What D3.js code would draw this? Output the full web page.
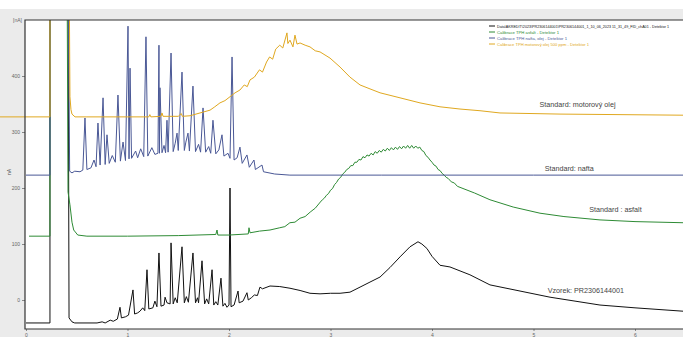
<!DOCTYPE html>
<html>
<head>
<meta charset="utf-8">
<script src="https://cdn.jsdelivr.net/npm/d3@7"></script>
<style>
  html, body { margin: 0; padding: 0; background: #ebebeb; }
  svg { display: block; font-family: "Liberation Sans", Arial, sans-serif; }
</style>
</head>
<body>
<script>
// retention time [min] / signal [nA]
const yTicks = [0, 100, 200, 300, 400];
const xTicks = [0, 1, 2, 3, 4, 5, 6];

const sampleTrace = [
  [0, -41], [0.236, -41], [0.236, 620], [0.414, 620], [0.424, -32], [0.453, -39], [0.48, -41],
  [0.70, -41], [0.75, -39], [0.78, -41], [0.83, -36], [0.86, -38], [0.90, -34], [0.926, -13],
  [0.94, -32], [0.98, -30], [1.01, -27], [1.054, 18], [1.07, -25], [1.10, -23], [1.123, -20],
  [1.15, -14], [1.17, -19], [1.192, 54], [1.21, -16], [1.25, -14], [1.27, -2], [1.29, -12],
  [1.31, 84], [1.33, -11], [1.36, -9], [1.37, 5], [1.389, -5], [1.42, -7], [1.429, 102],
  [1.45, -7], [1.47, 4], [1.49, -5], [1.537, 95], [1.56, -5], [1.58, 6], [1.60, -4],
  [1.645, 84], [1.67, -5], [1.69, 4], [1.70, -5], [1.734, 70], [1.76, -7], [1.78, 2],
  [1.80, -7], [1.833, 54], [1.85, -9], [1.87, -3], [1.89, -9], [1.921, 39], [1.94, -11],
  [1.96, -6], [1.98, -13], [2.0, -9], [2.01, 200], [2.02, -12], [2.05, -9], [2.089, 16],
  [2.10, -5], [2.138, -2], [2.177, 13], [2.19, 0], [2.22, 4], [2.25, 9], [2.28, 8],
  [2.305, 23], [2.33, 20], [2.404, 25], [2.50, 24], [2.601, 21], [2.70, 17], [2.798, 12],
  [2.897, 11], [3.0, 12], [3.094, 12], [3.192, 14], [3.291, 23], [3.389, 32], [3.488, 41],
  [3.586, 58], [3.685, 77], [3.783, 95], [3.862, 104], [3.90, 100], [3.95, 92], [4.0, 78],
  [4.079, 62], [4.177, 59], [4.374, 45], [4.571, 27], [4.867, 16], [5.163, 5], [5.655, -9],
  [6.0, -14], [6.473, -20]
];

const asphaltTrace = [
  [0.03, 114], [0.236, 114], [0.236, 620], [0.404, 620], [0.414, 193], [0.433, 170],
  [0.453, 139], [0.47, 125], [0.51, 116], [0.60, 114], [1.0, 114], [1.5, 115], [1.87, 117],
  [1.882, 125], [1.89, 116], [2.0, 116], [2.19, 118], [2.197, 129], [2.207, 120], [2.30, 123],
  [2.404, 125], [2.50, 129], [2.55, 131], [2.60, 138], [2.65, 139], [2.70, 146], [2.75, 149],
  [2.80, 157], [2.85, 164], [2.90, 175], [2.92, 179], [2.94, 182], [2.96, 187], [2.98, 190],
  [3.00, 196], [3.02, 199], [3.04, 206], [3.06, 210], [3.08, 216], [3.10, 219], [3.12, 225],
  [3.14, 228], [3.16, 233], [3.18, 235], [3.20, 240], [3.22, 240], [3.24, 246], [3.26, 246],
  [3.28, 251], [3.30, 250], [3.32, 256], [3.34, 254], [3.36, 259], [3.38, 257], [3.40, 262],
  [3.42, 259], [3.44, 265], [3.46, 262], [3.48, 267], [3.50, 264], [3.52, 269], [3.54, 266],
  [3.56, 271], [3.58, 267], [3.60, 272], [3.62, 268], [3.64, 273], [3.66, 269], [3.68, 274],
  [3.70, 270], [3.72, 275], [3.74, 271], [3.76, 276], [3.78, 271], [3.80, 276], [3.82, 271],
  [3.84, 275], [3.86, 271], [3.88, 273], [3.90, 267], [3.92, 265], [3.94, 258], [3.96, 255],
  [3.98, 250], [4.00, 246], [4.02, 241], [4.04, 239], [4.06, 233], [4.08, 231], [4.10, 226],
  [4.12, 223], [4.14, 219], [4.16, 217], [4.19, 211], [4.22, 209], [4.25, 203], [4.42, 191],
  [4.571, 179], [4.8, 166], [5.064, 155], [5.3, 149], [5.655, 143], [6.0, 140], [6.473, 138]
];

const dieselTrace = [
  [0, 223], [0.236, 223], [0.236, 620], [0.414, 620], [0.43, 230], [0.453, 227], [0.48, 230],
  [0.532, 229], [0.56, 232], [0.581, 325], [0.60, 233], [0.64, 236], [0.67, 250], [0.69, 238],
  [0.709, 316], [0.73, 241], [0.759, 361], [0.78, 242], [0.798, 295], [0.82, 244], [0.85, 258],
  [0.88, 246], [0.906, 366], [0.93, 248], [0.956, 282], [0.98, 249], [1.005, 489], [1.015, 252],
  [1.025, 414], [1.04, 253], [1.08, 266], [1.10, 254], [1.13, 270], [1.16, 256], [1.182, 470],
  [1.20, 257], [1.24, 272], [1.27, 260], [1.30, 262], [1.310, 455], [1.315, 262], [1.320, 379],
  [1.34, 263], [1.36, 276], [1.375, 263], [1.389, 321], [1.40, 264], [1.429, 441], [1.45, 265],
  [1.47, 280], [1.488, 298], [1.50, 267], [1.537, 407], [1.56, 267], [1.575, 282], [1.596, 298],
  [1.61, 266], [1.645, 382], [1.67, 265], [1.70, 278], [1.72, 264], [1.744, 343], [1.77, 264],
  [1.80, 274], [1.82, 262], [1.842, 321], [1.87, 261], [1.90, 268], [1.931, 295], [1.95, 257],
  [1.99, 262], [2.01, 253], [2.030, 434], [2.05, 250], [2.08, 254], [2.108, 273], [2.13, 244],
  [2.177, 259], [2.20, 237], [2.246, 250], [2.26, 233], [2.325, 241], [2.34, 229], [2.45, 225],
  [2.60, 223], [3.5, 223], [5.0, 223], [6.473, 223]
];

const motorOilTrace = [
  [-0.256, 327], [0.236, 327], [0.236, 620], [0.424, 620], [0.433, 363], [0.443, 340],
  [0.453, 332], [0.483, 327], [0.6, 327], [1.0, 327], [1.21, 327], [1.22, 331], [1.23, 327],
  [1.33, 328], [1.34, 334], [1.35, 328], [1.5, 328], [1.53, 333], [1.54, 328], [1.616, 329],
  [1.714, 334], [1.813, 339], [1.86, 345], [1.911, 352], [1.96, 356], [2.01, 363], [2.06, 370],
  [2.108, 375], [2.15, 384], [2.18, 381], [2.207, 393], [2.25, 398], [2.30, 411], [2.33, 407],
  [2.37, 425], [2.40, 434], [2.43, 430], [2.46, 448], [2.50, 455], [2.53, 450], [2.571, 477],
  [2.58, 458], [2.601, 464], [2.63, 452], [2.65, 473], [2.67, 457], [2.70, 459], [2.75, 455],
  [2.798, 452], [2.85, 445], [2.897, 443], [2.995, 432], [3.094, 416], [3.192, 398],
  [3.291, 384], [3.389, 377], [3.488, 370], [3.685, 361], [3.882, 352], [4.079, 345],
  [4.276, 341], [4.473, 338], [4.67, 334], [5.261, 332], [6.473, 330]
];

const traces = [
  { name: "sample", data: sampleTrace, color: "#111111" },
  { name: "asfalt", data: asphaltTrace, color: "#2e8b35" },
  { name: "nafta", data: dieselTrace, color: "#4a5896" },
  { name: "olej", data: motorOilTrace, color: "#e0a820" }
];

const curveLabels = [
  { text: "Standard: motorový olej", t: 5.06, v: 345 },
  { text: "Standard: nafta", t: 5.11, v: 231 },
  { text: "Standard : asfalt", t: 5.55, v: 157 },
  { text: "Vzorek: PR2306144001", t: 5.14, v: 12 }
];

const legendItems = [
  { text: "Data\\AKREDIT\\2023\\PR2306144001\\PR2306144001_1_10_06_2023 11_31_49_FID_chA01 - Detektor 1", color: "#111111", width: 172 },
  { text: "Calibrace TPH asfalt - Detektor 1", color: "#2e8b35", width: 62 },
  { text: "Calibrace TPH nafta, olej - Detektor 1", color: "#4a5896", width: 70 },
  { text: "Calibrace TPH motorový olej 500 ppm - Detektor 1", color: "#e0a820", width: 92 }
];

const W = 683, H = 337;
const plot = { left: 25, top: 20, right: 683, bottom: 329 };

const svg = d3.select("body").append("svg")
  .attr("width", W)
  .attr("height", H);

// background: grey frame, white strip on top, white plot area
svg.append("rect").attr("width", W).attr("height", H).attr("fill", "#ebebeb");
svg.append("rect").attr("width", W).attr("height", 9).attr("fill", "#ffffff");
svg.append("rect")
  .attr("x", plot.left).attr("y", plot.top)
  .attr("width", plot.right - plot.left).attr("height", plot.bottom - plot.top)
  .attr("fill", "#ffffff");

const x = d3.scaleLinear().domain([0, 6.5]).range([26, 26 + 6.5 * 101.5]);
const y = d3.scaleLinear().domain([0, 500]).range([300, 20]);

svg.append("clipPath").attr("id", "clip")
  .append("rect")
  .attr("x", 0).attr("y", plot.top)
  .attr("width", plot.right).attr("height", plot.bottom - plot.top);

const line = d3.line()
  .x((d) => x(d[0]))
  .y((d) => y(d[1]));

const traceG = svg.append("g").attr("clip-path", "url(#clip)");
traces.forEach((tr) => {
  traceG.append("path")
    .datum(tr.data)
    .attr("fill", "none")
    .attr("stroke", tr.color)
    .attr("stroke-width", 1)
    .attr("stroke-linejoin", "round")
    .attr("d", line);
});

// axes
const yAxis = d3.axisLeft(y).tickValues(yTicks).tickSize(3).tickPadding(2);
const yG = svg.append("g")
  .attr("transform", `translate(${plot.left},0)`)
  .call(yAxis);
yG.select(".domain").remove();
yG.selectAll("line").attr("stroke", "#888");
yG.selectAll("text").attr("font-size", 5).attr("fill", "#666").attr("font-family", "Liberation Sans, Arial, sans-serif");

const xAxis = d3.axisBottom(x).tickValues(xTicks).tickFormat(d3.format("d")).tickSize(2).tickPadding(2);
const xG = svg.append("g")
  .attr("transform", `translate(0,${plot.bottom})`)
  .call(xAxis);
xG.select(".domain").remove();
xG.selectAll("line").attr("stroke", "#888");
xG.selectAll("text").attr("font-size", 5).attr("fill", "#666").attr("font-family", "Liberation Sans, Arial, sans-serif");

// plot frame (top, left, bottom)
svg.append("path")
  .attr("d", `M${plot.right},${plot.top}H${plot.left}V${plot.bottom}H${plot.right}`)
  .attr("fill", "none")
  .attr("stroke", "#333")
  .attr("stroke-width", 1.2);

svg.append("text")
  .attr("x", 22).attr("y", 22)
  .attr("text-anchor", "end")
  .attr("font-size", 5).attr("fill", "#666")
  .text("[nA]");

svg.append("text")
  .attr("transform", `translate(11,172) rotate(-90)`)
  .attr("text-anchor", "middle")
  .attr("font-size", 5).attr("fill", "#555")
  .text("nA");

// curve labels
svg.selectAll(".curve-label")
  .data(curveLabels)
  .enter()
  .append("text")
  .attr("class", "curve-label")
  .attr("x", (d) => x(d.t))
  .attr("y", (d) => y(d.v))
  .attr("font-size", 7.2)
  .attr("fill", "#444")
  .text((d) => d.text);

// legend
const legend = svg.append("g").attr("transform", "translate(489,26)");
legendItems.forEach((d, i) => {
  const row = legend.append("g").attr("transform", `translate(0,${i * 6})`);
  row.append("line")
    .attr("x1", 0).attr("x2", 6)
    .attr("stroke", d.color).attr("stroke-width", 1);
  row.append("text")
    .attr("x", 8).attr("y", 1.5)
    .attr("font-size", 3.6)
    .attr("fill", d.color)
    .attr("textLength", d.width)
    .attr("lengthAdjust", "spacingAndGlyphs")
    .text(d.text);
});
</script>
</body>
</html>
